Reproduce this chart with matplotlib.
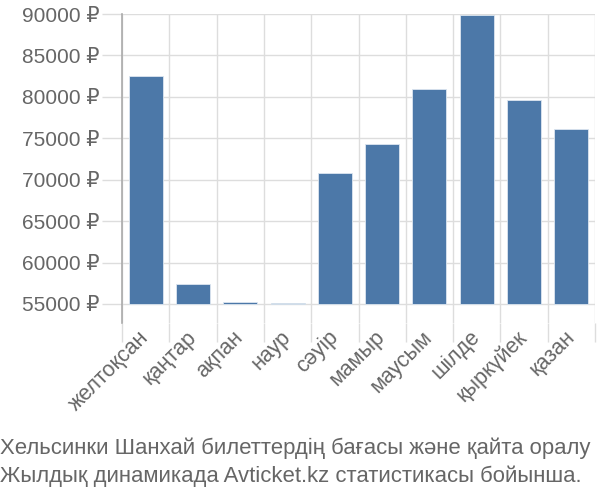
import matplotlib
matplotlib.use("Agg")
import matplotlib.pyplot as plt
import numpy as np

months = ["желтоқсан", "қаңтар", "ақпан", "наур", "сәуір", "мамыр",
          "маусым", "шілде", "қыркүйек", "қазан"]
prices = [82500, 57450, 55180, 55080, 70770, 74310, 80910, 89920, 79660, 76120]
yticks = [55000, 60000, 65000, 70000, 75000, 80000, 85000, 90000]
ytick_labels = [f"{v} ₽" for v in yticks]
title_lines = ["Хельсинки Шанхай билеттердің бағасы және қайта оралу",
               "Жылдық динамикада Avticket.kz статистикасы бойынша."]

fam = ["Liberation Sans", "DejaVu Sans"]
plt.rcParams['font.family'] = fam

fig = plt.figure(figsize=(6, 5), dpi=100)
ax = fig.add_axes([122/600, 1-323/500, (595-122)/600, (323-14)/500])

base = 55000
x = np.arange(len(months))
ax.bar(x, [p - base for p in prices], bottom=base, width=0.72,
       color="#4c78a8", edgecolor="#dce6f0", linewidth=0.6, zorder=3)

ax.set_xlim(-0.5, len(months) - 0.5)
ax.set_ylim(52700, 90000)

ax.set_yticks(yticks)
ax.set_yticklabels(ytick_labels)
ax.set_xticks(x)
ax.set_xticklabels(months, rotation=45, ha="right", va="center",
                   rotation_mode="anchor")
ax.set_xticks(np.arange(-0.5, len(months)), minor=True)

ax.tick_params(axis="y", length=14.4, color="#dddddd", width=1,
               labelsize=15, labelcolor="#666666", pad=1.5)
ax.tick_params(axis="x", which="major", length=0, labelsize=15.5,
               labelcolor="#666666", pad=8)
ax.tick_params(axis="x", which="minor", length=13.7, color="#dddddd", width=1)

ax.grid(axis="y", color="#dddddd", linewidth=1, zorder=0)
ax.grid(axis="x", which="minor", color="#dddddd", linewidth=1, zorder=0)
ax.grid(axis="x", which="major", visible=False)

for s in ["top", "right", "bottom"]:
    ax.spines[s].set_visible(False)
ax.spines["left"].set_color("#aaaaaa")
ax.spines["left"].set_linewidth(1.2)

fig.text(0.0, 1 - 454/500, title_lines[0], fontsize=15.9, color="#666666",
         ha="left", va="baseline")
fig.text(0.0, 1 - 482/500, title_lines[1], fontsize=15.9, color="#666666",
         ha="left", va="baseline")

fig.savefig("out.png", dpi=100)
